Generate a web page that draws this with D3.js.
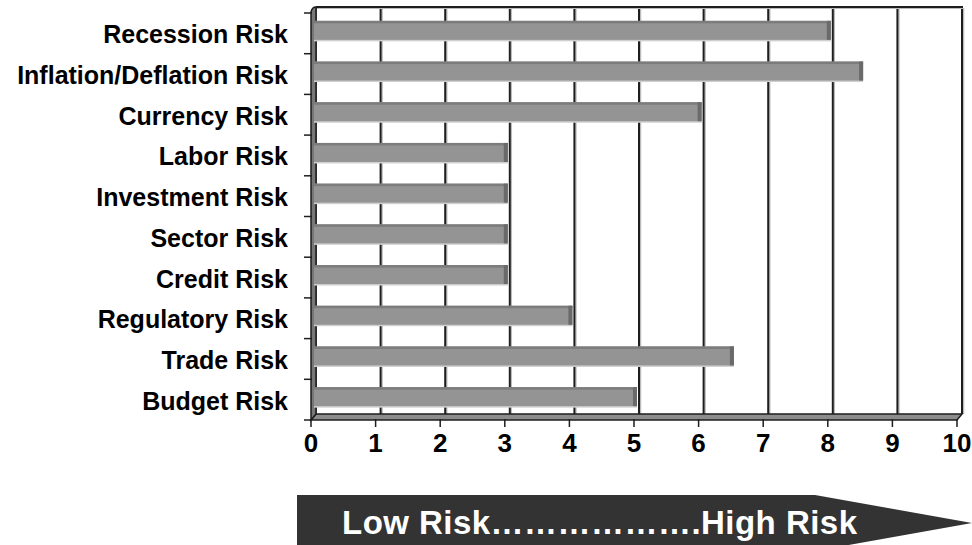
<!DOCTYPE html>
<html><head><meta charset="utf-8">
<script src="https://cdn.jsdelivr.net/npm/d3@7"></script>
<style>html,body{margin:0;padding:0;background:#fff;}svg{display:block;}</style>
</head><body>
<script>
const categories = ["Recession Risk","Inflation/Deflation Risk","Currency Risk","Labor Risk","Investment Risk","Sector Risk","Credit Risk","Regulatory Risk","Trade Risk","Budget Risk"];
const values = [8, 8.5, 6, 3, 3, 3, 3, 4, 6.5, 5];
const tickValues = [0,1,2,3,4,5,6,7,8,9,10];
const arrowText = "Low Risk……………….High Risk";

const W = 972, H = 545;
const svg = d3.select("body").append("svg").attr("width", W).attr("height", H);
const font = "Arial, 'Liberation Sans', sans-serif";

const xBack = d3.scaleLinear().domain([0,10]).range([316, 962]);
const xFront = d3.scaleLinear().domain([0,10]).range([311, 957]);
const y = d3.scaleBand().domain(categories).range([7, 414]);

// back wall gridlines (shadow + line)
const grid = svg.append("g");
grid.selectAll("line.sh").data(tickValues.slice(1)).join("line")
  .attr("x1", d => xBack(d)+1.5).attr("x2", d => xBack(d)+1.5)
  .attr("y1", 8).attr("y2", 414).attr("stroke", "#bbb").attr("stroke-width", 1.5);
grid.selectAll("line.g").data(tickValues.slice(1)).join("line")
  .attr("x1", d => xBack(d)).attr("x2", d => xBack(d))
  .attr("y1", 7).attr("y2", 414).attr("stroke", "#1e1e1e").attr("stroke-width", 2);
grid.append("line").attr("x1", xBack(0)).attr("x2", xBack(10)+1).attr("y1", 7).attr("y2", 7)
  .attr("stroke", "#1e1e1e").attr("stroke-width", 2);
grid.append("line").attr("x1", xBack(0)).attr("x2", xBack(10)+2).attr("y1", 8.5).attr("y2", 8.5)
  .attr("stroke", "#bbb").attr("stroke-width", 1);
grid.append("line").attr("x1", xBack(0)).attr("x2", xBack(0)).attr("y1", 7).attr("y2", 414)
  .attr("stroke", "#1e1e1e").attr("stroke-width", 1.5);

// floor
const floor = svg.append("g");
floor.append("path")
  .attr("d", `M${xBack(0)},414 L${xBack(10)},414 L${xFront(10)},420 L${xFront(0)},420 Z`)
  .attr("fill", "#8c8c8c").attr("stroke", "#1e1e1e").attr("stroke-width", 1.5);
floor.selectAll("line.t").data(tickValues).join("line")
  .attr("x1", d => xFront(d)).attr("x2", d => xFront(d))
  .attr("y1", 419).attr("y2", 427).attr("stroke", "#1e1e1e").attr("stroke-width", 1.5);

// left wall
const lw = svg.append("g");
lw.append("path")
  .attr("d", `M${xBack(0)},7 Q${xBack(0)-4},7 ${xFront(0)},12 L${xFront(0)},420 L${xBack(0)},414 Z`)
  .attr("fill", "#777").attr("stroke", "#1e1e1e").attr("stroke-width", 1.5);
const bounds = categories.map(c => y(c)).concat([414]);
lw.selectAll("line.lt").data(bounds).join("line")
  .attr("x1", 304).attr("x2", xFront(0)+1)
  .attr("y1", d => d + 6).attr("y2", d => d + 6)
  .attr("stroke", "#1e1e1e").attr("stroke-width", 1.5);

// bars
const barH = 19, off = (y.bandwidth() - barH) / 2 + 3;
const bars = svg.append("g").selectAll("g").data(categories).join("g");
bars.append("rect")
  .attr("x", xBack(0)-2).attr("y", c => y(c) + off + 1.5)
  .attr("width", (c,i) => xBack(values[i]) - xBack(0)).attr("height", barH)
  .attr("fill", "#cfcfcf");
bars.append("rect")
  .attr("x", xBack(0)-2).attr("y", c => y(c) + off)
  .attr("width", (c,i) => xBack(values[i]) - xBack(0)).attr("height", barH)
  .attr("fill", "#949494");
bars.append("rect")
  .attr("x", xBack(0)-2).attr("y", c => y(c) + off)
  .attr("width", (c,i) => xBack(values[i]) - xBack(0)).attr("height", 2.5)
  .attr("fill", "#7c7c7c");
bars.append("rect")
  .attr("x", (c,i) => xBack(values[i]) - 6).attr("y", c => y(c) + off)
  .attr("width", 4).attr("height", barH)
  .attr("fill", "#6a6a6a");

// category labels
svg.append("g").selectAll("text").data(categories).join("text")
  .attr("x", 288).attr("y", c => y(c) + y.bandwidth()/2 + 7)
  .attr("text-anchor", "end").attr("dominant-baseline", "central")
  .attr("font-family", font).attr("font-weight", "bold").attr("font-size", 25)
  .attr("fill", "#000").text(c => c);

// tick labels
svg.append("g").selectAll("text").data(tickValues).join("text")
  .attr("x", d => xFront(d)).attr("y", 443)
  .attr("text-anchor", "middle").attr("dominant-baseline", "central")
  .attr("font-family", font).attr("font-weight", "bold").attr("font-size", 26)
  .attr("fill", "#000").text(d => d);

// arrow banner
svg.append("path")
  .attr("d", "M297,495 L815,495 L972,523 L815,551 L297,551 Z")
  .attr("fill", "#333");
svg.append("text").attr("x", 342).attr("y", 522)
  .attr("dominant-baseline", "central")
  .attr("font-family", font).attr("font-weight", "bold").attr("font-size", 33)
  .attr("textLength", 515).attr("lengthAdjust", "spacing")
  .attr("fill", "#fff").text(arrowText);
</script>
</body></html>
